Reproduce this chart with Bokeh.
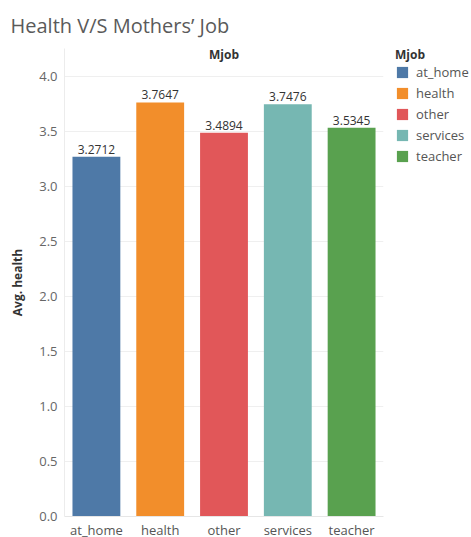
from bokeh.plotting import figure
from bokeh.models import ColumnDataSource, FactorRange, Range1d, FixedTicker, Label, Legend, LegendItem
from bokeh.embed import file_html
from bokeh.resources import INLINE
from bokeh.core.properties import value

categories = ["at_home", "health", "other", "services", "teacher"]
avg_health = [3.2712, 3.7647, 3.4894, 3.7476, 3.5345]
colors = ["#4e79a7", "#f28e2b", "#e15759", "#76b7b2", "#59a14f"]
y_ticks = [0.0, 0.5, 1.0, 1.5, 2.0, 2.5, 3.0, 3.5, 4.0]

src = ColumnDataSource(dict(
    cat=categories, val=avg_health, color=colors,
    lbl=["%.4f" % v for v in avg_health],
))

FONT = "Open Sans"

p = figure(frame_width=319, frame_height=468, output_backend="svg", toolbar_location=None,
           x_range=FactorRange(factors=categories, range_padding=0),
           y_range=Range1d(0, 4.2545),
           min_border_left=64, min_border_right=88, min_border_top=47, min_border_bottom=22)

p.title.text = "Health V/S Mothers\u2019 Job"
p.title.text_font = FONT
p.title.text_font_size = "20px"
p.title.text_font_style = "normal"
p.title.text_color = "#5a5a5a"
p.title.align = "left"
p.title.offset = -54
p.title.standoff = 19

hdr = Label(x=159.5, y=462, x_units="screen", y_units="screen", text="Mjob",
            text_align="center", text_baseline="middle", text_font=FONT,
            text_font_size="12px", text_font_style="bold", text_color="#333333")
p.add_layout(hdr)

r = p.vbar(x="cat", top="val", width=0.75, color="color", line_color=None, source=src)
p.text(x="cat", y="val", text="lbl", source=src, text_align="center", text_baseline="bottom",
       y_offset=-3, text_font=value(FONT), text_font_size="12px", text_color="#333333")

items = [LegendItem(label=c, renderers=[r], index=i) for i, c in enumerate(categories)]
legend = Legend(items=items, title="Mjob", location=(12, 351),
                title_text_font=FONT, title_text_font_size="12px", title_text_font_style="bold",
                title_text_color="#333333", label_text_font=FONT, label_text_font_size="13px",
                label_text_color="#555555", glyph_width=14, glyph_height=14, label_height=14,
                spacing=3, padding=2, margin=0, border_line_color=None, background_fill_alpha=0,
                title_standoff=0, label_standoff=7)
p.add_layout(legend, "right")

p.xgrid.grid_line_color = None
p.ygrid.grid_line_color = "#efefef"
p.outline_line_color = None

p.yaxis.ticker = FixedTicker(ticks=y_ticks)
p.yaxis.major_label_overrides = {t: "%.1f" % t for t in y_ticks}
p.yaxis.axis_label = "Avg. health"
p.yaxis.axis_label_text_font = FONT
p.yaxis.axis_label_text_font_size = "12px"
p.yaxis.axis_label_text_font_style = "bold"
p.yaxis.axis_label_text_color = "#333333"
p.yaxis.axis_label_standoff = 10
p.yaxis.major_label_text_font = FONT
p.yaxis.major_label_text_font_size = "13px"
p.yaxis.major_label_text_color = "#666666"
p.yaxis.major_label_standoff = 7
p.yaxis.major_tick_out = 0
p.yaxis.major_tick_line_color = None
p.yaxis.minor_tick_line_color = None
p.yaxis.axis_line_color = "#ececec"

p.xaxis.major_label_text_font = FONT
p.xaxis.major_label_text_font_size = "13px"
p.xaxis.major_label_text_color = "#555555"
p.xaxis.major_label_standoff = 4
p.xaxis.major_tick_out = 0
p.xaxis.major_tick_line_color = None
p.xaxis.axis_line_color = "#e6e6e6"

open("out.html", "w").write(file_html(p, INLINE))
